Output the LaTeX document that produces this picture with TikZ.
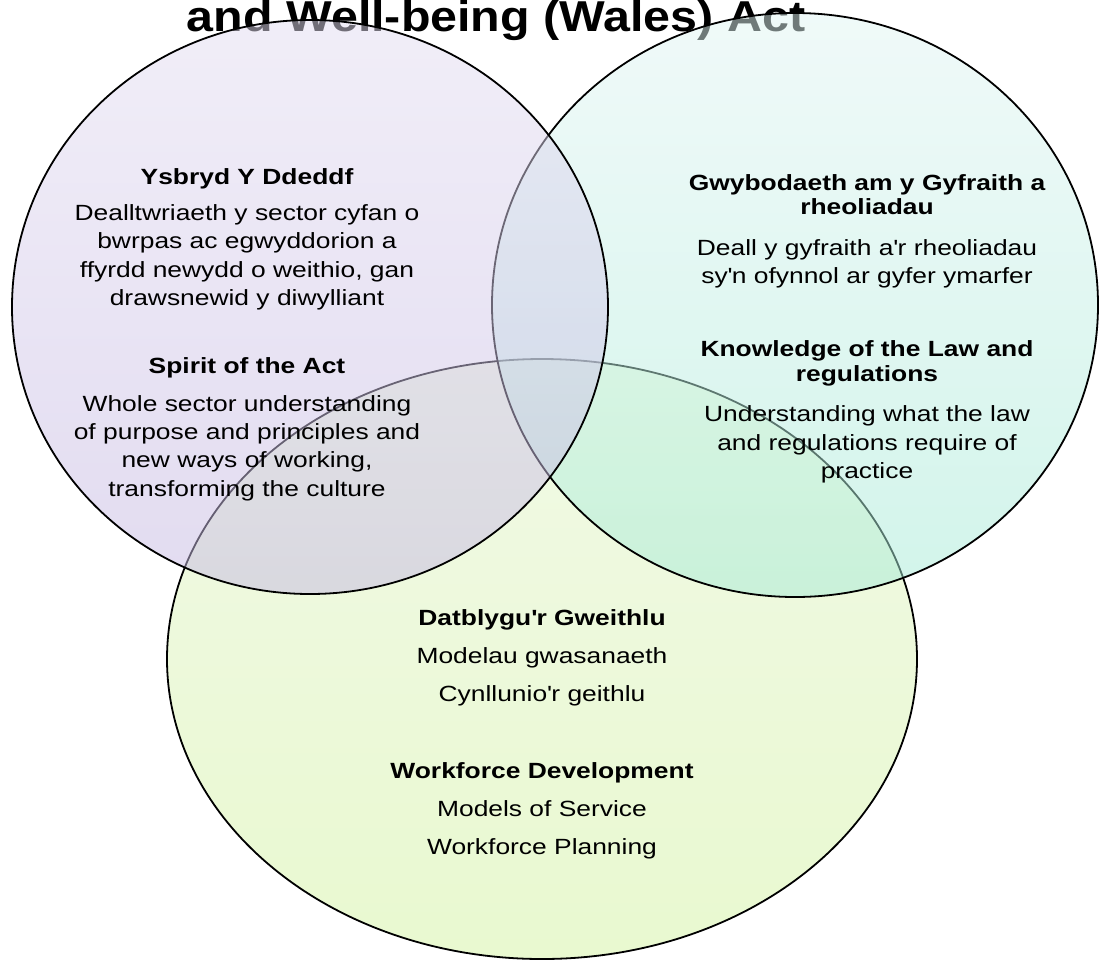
\documentclass[tikz,border=0pt]{standalone}
\usepackage{fontspec}
\setmainfont{Liberation Sans}[FakeStretch=1.2]
\newfontfamily\titlefont{Liberation Sans}[FakeStretch=1.12]
\usetikzlibrary{positioning}

\definecolor{lilac}{RGB}{227,221,241}
\definecolor{lilacdark}{RGB}{197,184,226}
\definecolor{mint}{RGB}{225,245,243}
\definecolor{mintdark}{RGB}{165,234,214}
\definecolor{lime}{RGB}{227,245,205}
\definecolor{limedark}{RGB}{211,243,161}

\begin{document}
\begin{tikzpicture}[x=0.5pt, y=-0.5pt,
    venn/.style={draw=black, line width=0.9pt, fill opacity=0.5},
    txt/.style={align=center, font=\fontsize{11}{14.2}\selectfont},
    head/.style={align=center, font=\fontsize{11}{12.2}\selectfont\bfseries},
    wide/.style={align=center, font=\fontsize{11}{19}\selectfont}]
    % variables
    \pgfmathsetmacro{\vLeftX}{247}
    \pgfmathsetmacro{\vRightX}{867}
    \pgfmathsetmacro{\vMidX}{542}

    \useasboundingbox (0,0) rectangle (1099,960);

    % title, partly under the circles
    \node[anchor=base, font=\titlefont\fontsize{21.6}{26}\selectfont\bfseries] (title) at (496,31) {and Well-being (Wales) Act};

    % circles, bottom one first
    \path[venn, top color=lime, bottom color=limedark] (542,659) ellipse [x radius=375, y radius=300];
    \path[venn, top color=mint, bottom color=mintdark] (795,305) ellipse [x radius=303, y radius=292];
    \path[venn, top color=lilac, bottom color=lilacdark] (310,307) ellipse [x radius=298, y radius=287];

    % spirit of the act
    \node[head] (ysbryd) at (\vLeftX,179) {Ysbryd Y Ddeddf};
    \node[txt] (ysbrydtxt) at (\vLeftX,257.5) {Dealltwriaeth y sector cyfan o\\bwrpas ac egwyddorion a\\ffyrdd newydd o weithio, gan\\drawsnewid y diwylliant};
    \node[head] (spirit) at (\vLeftX,368) {Spirit of the Act};
    \node[txt] (spirittxt) at (\vLeftX,448) {Whole sector understanding\\of purpose and principles and\\new ways of working,\\transforming the culture};

    % law and regulations
    \node[head] (gwybod) at (\vRightX,194.5) {Gwybodaeth am y Gyfraith a\\rheoliadau};
    \node[txt] (gwybodtxt) at (\vRightX,264) {Deall y gyfraith a\textquotesingle r rheoliadau\\sy\textquotesingle n ofynnol ar gyfer ymarfer};
    \node[head] (law) at (\vRightX,363.5) {Knowledge of the Law and\\regulations};
    \node[txt] (lawtxt) at (\vRightX,444.5) {Understanding what the law\\and regulations require of\\practice};

    % workforce
    \node[head] (datblygu) at (\vMidX,620) {Datblygu\textquotesingle r Gweithlu};
    \node[wide] (datblygutxt) at (\vMidX,676.5) {Modelau gwasanaeth\\Cynllunio\textquotesingle r geithlu};
    \node[head] (workforce) at (\vMidX,773) {Workforce Development};
    \node[wide] (workforcetxt) at (\vMidX,829.5) {Models of Service\\Workforce Planning};
\end{tikzpicture}
\end{document}
